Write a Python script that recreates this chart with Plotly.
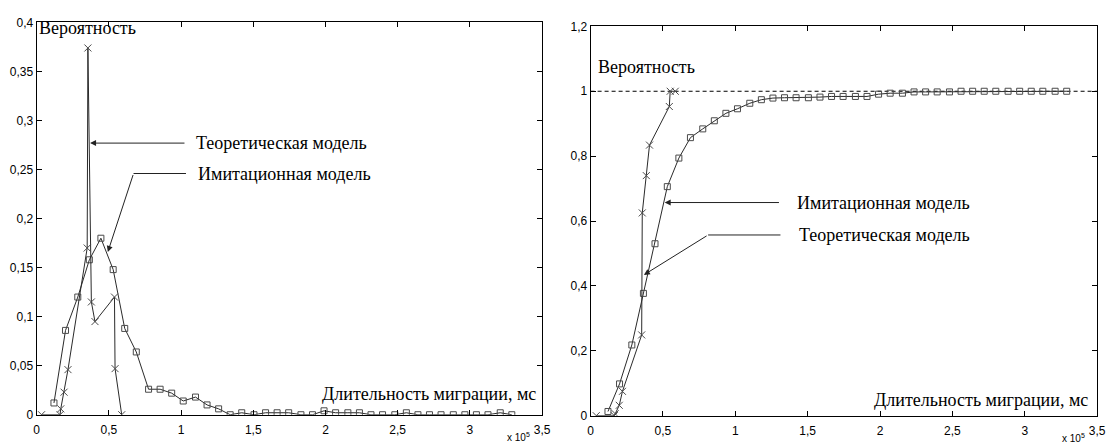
import plotly.graph_objects as go

# ---------------- data (x in units of 1e5 ms) ----------------
X_IMIT = [0.12, 0.20, 0.285, 0.365, 0.445, 0.53, 0.61, 0.69, 0.775, 0.855,
          0.935, 1.015, 1.10, 1.18, 1.26, 1.34, 1.42, 1.505, 1.585, 1.665,
          1.745, 1.83, 1.91, 1.99, 2.07, 2.155, 2.235, 2.315, 2.395, 2.48,
          2.56, 2.64, 2.72, 2.80, 2.885, 2.965, 3.045, 3.125, 3.21, 3.29]
PDF_IMIT = [0.012, 0.086, 0.12, 0.158, 0.18, 0.148, 0.088, 0.064, 0.026, 0.026,
            0.022, 0.014, 0.018, 0.010, 0.006, 0.0, 0.002, 0.0, 0.002, 0.002,
            0.002, 0.0, 0.0, 0.004, 0.002, 0.002, 0.002, 0.0, 0.0, 0.0,
            0.002, 0.0, 0.0, 0.0, 0.0, 0.0, 0.0, 0.0, 0.002, 0.0]
CDF_IMIT = [0.013, 0.098, 0.218, 0.377, 0.53, 0.706, 0.794, 0.857, 0.884, 0.909,
            0.932, 0.946, 0.963, 0.974, 0.979, 0.98, 0.98, 0.98, 0.982, 0.984,
            0.984, 0.984, 0.984, 0.991, 0.994, 0.994, 0.998, 0.998, 0.998, 0.998,
            1.0, 1.0, 1.0, 1.0, 1.0, 1.0, 1.0, 1.0, 1.0, 1.0]

X_THEO_PDF = [0.034, 0.162, 0.167, 0.19, 0.217, 0.35, 0.355, 0.379, 0.404, 0.539, 0.543, 0.589]
PDF_THEO = [0.0, 0.0, 0.006, 0.023, 0.046, 0.17, 0.374, 0.115, 0.095, 0.12, 0.047, 0.0]

X_THEO_CDF = [0.039, 0.164, 0.17, 0.198, 0.22, 0.353, 0.357, 0.385, 0.407, 0.544, 0.55, 0.585]
CDF_THEO = [0.0, 0.0, 0.006, 0.032, 0.075, 0.249, 0.625, 0.74, 0.834, 0.953, 1.0, 1.0]

REF_LEVEL = 1.0

X_TICKS = [0, 0.5, 1, 1.5, 2, 2.5, 3, 3.5]
X_TICKTEXT = ["0", "0,5", "1", "1,5", "2", "2,5", "3", "3,5"]
Y1_TICKS = [0, 0.05, 0.1, 0.15, 0.2, 0.25, 0.3, 0.35, 0.4]
Y1_TICKTEXT = ["0", "0,05", "0,1", "0,15", "0,2", "0,25", "0,3", "0,35", "0,4"]
Y2_TICKS = [0, 0.2, 0.4, 0.6, 0.8, 1.0, 1.2]
Y2_TICKTEXT = ["0", "0,2", "0,4", "0,6", "0,8", "1", "1,2"]

LBL_Y = "Вероятность"
LBL_X = "Длительность миграции, мс"
LBL_THEO = "Теоретическая модель"
LBL_IMIT = "Имитационная модель"

# ---------------- figure ----------------
W, H = 1114, 444
LINE = "#2a2a2a"
MARK = "#4a4a4a"
SERIF = "'Times New Roman', 'Liberation Serif', 'DejaVu Serif', serif"
SANS = "Liberation Sans"

fig = go.Figure()

def imit(x, y, xa, ya):
    fig.add_trace(go.Scatter(x=x, y=y, xaxis=xa, yaxis=ya, mode="lines+markers",
                             line=dict(color=LINE, width=1),
                             marker=dict(symbol="square-open", size=6, color=MARK,
                                         line=dict(width=1, color=MARK)),
                             showlegend=False, hoverinfo="skip"))

def theo(x, y, xa, ya):
    fig.add_trace(go.Scatter(x=x, y=y, xaxis=xa, yaxis=ya, mode="lines+markers",
                             line=dict(color=LINE, width=1),
                             marker=dict(symbol="x-thin-open", size=7, color=MARK,
                                         line=dict(width=1, color=MARK)),
                             showlegend=False, hoverinfo="skip"))

imit(X_IMIT, PDF_IMIT, "x", "y")
theo(X_THEO_PDF, PDF_THEO, "x", "y")
imit(X_IMIT, CDF_IMIT, "x2", "y2")
theo(X_THEO_CDF, CDF_THEO, "x2", "y2")

axis_common = dict(showline=True, linecolor="black", linewidth=1, mirror="ticks",
                   ticks="inside", ticklen=5, tickcolor="black", tickwidth=1,
                   showgrid=False, zeroline=False,
                   tickfont=dict(family=SANS, size=12, color="black"))

fig.update_layout(
    width=W, height=H, margin=dict(l=0, r=0, t=0, b=0),
    paper_bgcolor="white", plot_bgcolor="white",
    xaxis=dict(domain=[34 / W, 545 / W], range=[0, 3.5], tickvals=X_TICKS,
               ticktext=X_TICKTEXT, anchor="y", ticklabelstandoff=4, **axis_common),
    yaxis=dict(domain=[1 - 421 / H, 1 - 16 / H], range=[0, 0.4], tickvals=Y1_TICKS,
               ticktext=Y1_TICKTEXT, anchor="x", **axis_common),
    xaxis2=dict(domain=[594 / W, 1106 / W], range=[0, 3.5], tickvals=X_TICKS,
                ticktext=X_TICKTEXT, anchor="y2", ticklabelstandoff=4, **axis_common),
    yaxis2=dict(domain=[1 - 422 / H, 1 - 20 / H], range=[0, 1.2], tickvals=Y2_TICKS,
                ticktext=Y2_TICKTEXT, anchor="x2", **axis_common),
)

# dashed reference line at probability 1
fig.add_shape(type="line", xref="x2", yref="y2", x0=0, x1=3.5, y0=REF_LEVEL, y1=REF_LEVEL,
              line=dict(color="black", width=1, dash="4px,3px"), layer="below")

def txt(x, y, xr, yr, s, xanchor="left", size=18):
    fig.add_annotation(x=x, y=y, xref=xr, yref=yr, text=s, showarrow=False,
                       xanchor=xanchor, yanchor="middle",
                       font=dict(family=SERIF, size=size, color="black"))

def arrow(xh, yh, xt, yt, xr, yr):
    fig.add_annotation(x=xh, y=yh, ax=xt, ay=yt, xref=xr, yref=yr, axref=xr, ayref=yr,
                       text="", showarrow=True, arrowhead=2, arrowsize=1.2,
                       arrowwidth=1, arrowcolor="#222")

def seg(x0, y0, x1, y1, xr, yr):
    fig.add_shape(type="line", xref=xr, yref=yr, x0=x0, y0=y0, x1=x1, y1=y1,
                  line=dict(color="#222", width=1))

# left panel
txt(0.0, 0.394, "x", "y", LBL_Y)
txt(3.47, 0.0215, "x", "y", LBL_X, xanchor="right")
txt(1.09, 0.277, "x", "y", LBL_THEO)
arrow(0.37, 0.277, 1.034, 0.277, "x", "y")
txt(1.105, 0.246, "x", "y", LBL_IMIT)
seg(1.034, 0.246, 0.671, 0.246, "x", "y")
arrow(0.493, 0.166, 0.671, 0.246, "x", "y")

# right panel
txt(0.04, 1.076, "x2", "y2", LBL_Y)
txt(3.45, 0.047, "x2", "y2", LBL_X, xanchor="right")
txt(1.41, 0.657, "x2", "y2", LBL_IMIT)
arrow(0.512, 0.657, 1.312, 0.657, "x2", "y2")
txt(1.425, 0.557, "x2", "y2", LBL_THEO)
seg(1.312, 0.557, 0.812, 0.557, "x2", "y2")
arrow(0.368, 0.434, 0.812, 0.557, "x2", "y2")

# x 10^5 multipliers
for xr, yr in (("x", "y"), ("x2", "y2")):
    fig.add_annotation(x=3.43, y=0, xref=xr, yref=yr, yshift=-22,
                       text="x 10<sup>5</sup>", showarrow=False, xanchor="right",
                       yanchor="middle", font=dict(family=SANS, size=10, color="black"))

fig.write_html("out.html")
